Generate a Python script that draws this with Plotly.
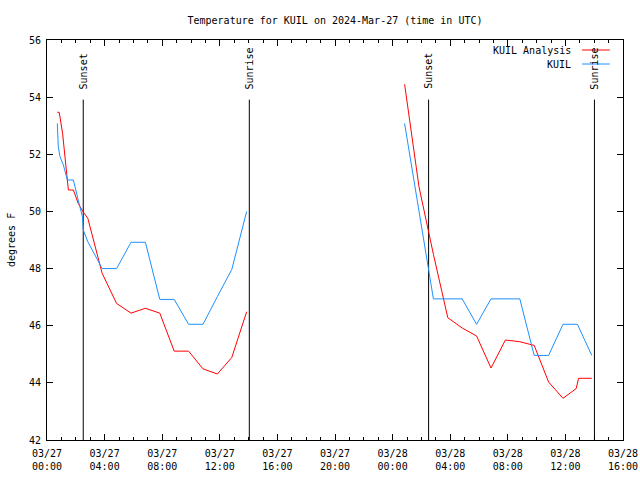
import plotly.graph_objects as go

# ---- data ----
analysis_time = [
    "2024-03-27 00:43", "2024-03-27 00:51", "2024-03-27 01:05", "2024-03-27 01:19",
    "2024-03-27 01:29", "2024-03-27 01:50", "2024-03-27 02:10", "2024-03-27 02:30",
    "2024-03-27 02:50", "2024-03-27 03:50", "2024-03-27 04:50", "2024-03-27 05:50",
    "2024-03-27 06:50", "2024-03-27 07:50", "2024-03-27 08:50", "2024-03-27 09:50",
    "2024-03-27 10:50", "2024-03-27 11:50", "2024-03-27 12:50", "2024-03-27 13:52",
    None,
    "2024-03-28 00:50", "2024-03-28 01:50", "2024-03-28 02:50", "2024-03-28 03:50",
    "2024-03-28 04:50", "2024-03-28 05:50", "2024-03-28 06:50", "2024-03-28 07:50",
    "2024-03-28 08:50", "2024-03-28 09:50", "2024-03-28 10:50", "2024-03-28 11:50",
    "2024-03-28 12:45", "2024-03-28 12:55", "2024-03-28 13:50",
]
analysis_temp = [
    53.47, 53.47, 52.73, 51.51,
    50.75, 50.75, 50.28, 49.99,
    49.76, 47.83, 46.78, 46.44,
    46.61, 46.44, 45.11, 45.11,
    44.49, 44.31, 44.89, 46.49,
    None,
    54.45, 50.86, 48.50, 46.28,
    45.92, 45.64, 44.52, 45.50,
    45.44, 45.31, 44.03, 43.46,
    43.80, 44.16, 44.16,
]

obs_time = [
    "2024-03-27 00:43", "2024-03-27 00:47", "2024-03-27 00:54", "2024-03-27 01:08",
    "2024-03-27 01:25", "2024-03-27 01:50", "2024-03-27 02:10", "2024-03-27 02:28",
    "2024-03-27 02:31", "2024-03-27 02:50", "2024-03-27 03:50", "2024-03-27 04:50",
    "2024-03-27 05:50", "2024-03-27 06:50", "2024-03-27 07:50", "2024-03-27 08:50",
    "2024-03-27 09:50", "2024-03-27 10:50", "2024-03-27 11:50", "2024-03-27 12:50",
    "2024-03-27 13:52",
    None,
    "2024-03-28 00:50", "2024-03-28 02:30", "2024-03-28 02:50", "2024-03-28 04:50",
    "2024-03-28 05:50", "2024-03-28 06:50", "2024-03-28 08:50", "2024-03-28 09:50",
    "2024-03-28 10:50", "2024-03-28 11:50", "2024-03-28 12:50", "2024-03-28 13:50",
]
obs_temp = [
    53.08, 52.27, 51.92, 51.63,
    51.10, 51.10, 50.40, 49.80,
    49.35, 48.94, 48.00, 48.00,
    48.92, 48.92, 46.92, 46.92,
    46.05, 46.05, 47.02, 47.97,
    50.00,
    None,
    53.08, 47.95, 46.94, 46.94,
    46.05, 46.94, 46.94, 44.96,
    44.96, 46.05, 46.05, 44.96,
]

sun_times = ["2024-03-27 02:31", "2024-03-27 14:03", "2024-03-28 02:30", "2024-03-28 14:01"]
sun_labels = ["Sunset", "Sunrise", "Sunset", "Sunrise"]

x_tickvals = ["2024-03-27 00:00", "2024-03-27 04:00", "2024-03-27 08:00", "2024-03-27 12:00",
              "2024-03-27 16:00", "2024-03-27 20:00", "2024-03-28 00:00", "2024-03-28 04:00",
              "2024-03-28 08:00", "2024-03-28 12:00", "2024-03-28 16:00"]
x_ticktext = ["03/27<br>00:00", "03/27<br>04:00", "03/27<br>08:00", "03/27<br>12:00",
              "03/27<br>16:00", "03/27<br>20:00", "03/28<br>00:00", "03/28<br>04:00",
              "03/28<br>08:00", "03/28<br>12:00", "03/28<br>16:00"]
y_tickvals = [42, 44, 46, 48, 50, 52, 54, 56]

series_names = ["KUIL Analysis", "KUIL"]
series_colors = ["#ff0000", "#1e90ff"]

FONT = "DejaVu Sans Mono"

fig = go.Figure()
fig.add_trace(go.Scatter(x=analysis_time, y=analysis_temp, mode="lines",
                         name=series_names[0], line=dict(color=series_colors[0], width=1),
                         connectgaps=False, showlegend=False))
fig.add_trace(go.Scatter(x=obs_time, y=obs_temp, mode="lines",
                         name=series_names[1], line=dict(color=series_colors[1], width=1),
                         connectgaps=False, showlegend=False))

# sunset / sunrise markers
for t, lab in zip(sun_times, sun_labels):
    fig.add_shape(type="line", xref="x", yref="paper", x0=t, x1=t, y0=0, y1=0.851,
                  line=dict(color="black", width=1), layer="below")
    fig.add_annotation(x=t, xref="x", y=0.872, yref="paper", text=lab, textangle=-90,
                       showarrow=False, xanchor="center", yanchor="bottom",
                       font=dict(family=FONT, size=10, color="black"))

# gnuplot-style legend (text then line sample)
leg_y = [0.975, 0.94]
for name, col, yy in zip(series_names, series_colors, leg_y):
    fig.add_annotation(x=0.913, xref="paper", y=yy, yref="paper", text=name,
                       showarrow=False, xanchor="right", yanchor="middle",
                       font=dict(family=FONT, size=10, color="black"))
    fig.add_shape(type="line", xref="paper", yref="paper", x0=0.929, x1=0.977,
                  y0=yy, y1=yy, line=dict(color=col, width=1))

# y label
fig.add_annotation(x=-0.0625, xref="paper", y=0.5, yref="paper", text="degrees F",
                   textangle=-90, showarrow=False, xanchor="center", yanchor="middle",
                   font=dict(family=FONT, size=10, color="black"))

fig.update_layout(
    width=640, height=480, autosize=False,
    margin=dict(l=47, r=17, t=40, b=40, autoexpand=False),
    paper_bgcolor="white", plot_bgcolor="white",
    font=dict(family=FONT, size=10, color="black"),
    title=dict(text="Temperature for KUIL on 2024-Mar-27 (time in UTC)",
               x=0.5, xref="paper", xanchor="center", y=1 - 20 / 480, yanchor="middle",
               font=dict(family=FONT, size=10, color="black")),
    showlegend=False,
)
fig.update_xaxes(
    type="date", range=["2024-03-27 00:00", "2024-03-28 16:00"],
    tickvals=x_tickvals, ticktext=x_ticktext, automargin=False,
    showline=True, linecolor="black", linewidth=1, mirror="allticks",
    ticks="inside", ticklen=6, tickcolor="black", tickwidth=1,
    showgrid=False, zeroline=False, ticklabelstandoff=4,
    tickfont=dict(family=FONT, size=10, color="black"),
    minor=dict(ticks="inside", ticklen=3, tickcolor="black", dtick=3600000,
               tick0="2024-03-27 00:00", showgrid=False),
)
fig.update_yaxes(
    range=[42, 56], tickvals=y_tickvals, automargin=False,
    showline=True, linecolor="black", linewidth=1, mirror="allticks",
    ticks="inside", ticklen=6, tickcolor="black", tickwidth=1,
    showgrid=False, zeroline=False, ticklabelstandoff=3,
    tickfont=dict(family=FONT, size=10, color="black"),
)

fig.write_html("out.html", config={"displayModeBar": False},
               post_script="document.body.style.margin='0';document.body.style.padding='0';")
